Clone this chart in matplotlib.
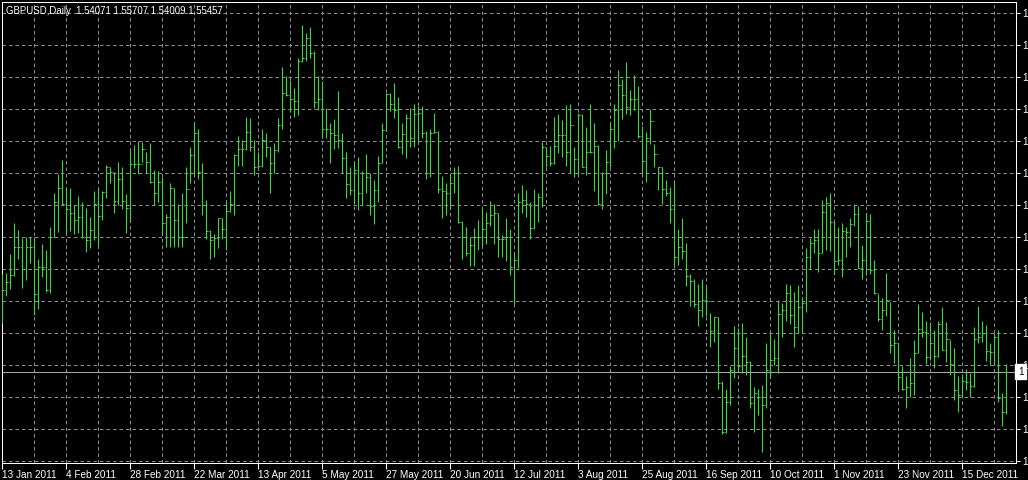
import numpy as np
import matplotlib.pyplot as plt

# GBPUSD daily bars, 13 Jan 2011 .. end Dec 2011
highs = [
    1.5882, 1.5886, 1.5950, 1.6056, 1.6033, 1.6004, 1.6008, 1.6008, 1.6008, 1.5932,
    1.5984, 1.5964, 1.6042, 1.6159, 1.6225, 1.6273, 1.6179, 1.6179, 1.6119, 1.6151,
    1.6130, 1.6107, 1.6079, 1.6168, 1.6179, 1.6168, 1.6255, 1.6248, 1.6228, 1.6267,
    1.6248, 1.6157, 1.6308, 1.6325, 1.6340, 1.6336, 1.6302, 1.6333, 1.6239, 1.6237,
    1.6216, 1.6088, 1.6193, 1.6179, 1.6124, 1.6161, 1.6251, 1.6319, 1.6400, 1.6382,
    1.6262, 1.6136, 1.6033, 1.6021, 1.6076, 1.6073, 1.6130, 1.6168, 1.6294, 1.6356,
    1.6342, 1.6420, 1.6417, 1.6342, 1.6302, 1.6379, 1.6365, 1.6319, 1.6331, 1.6417,
    1.6592, 1.6562, 1.6549, 1.6523, 1.6626, 1.6738, 1.6711, 1.6730, 1.6649, 1.6562,
    1.6546, 1.6454, 1.6400, 1.6413, 1.6512, 1.6367, 1.6302, 1.6248, 1.6264, 1.6283,
    1.6237, 1.6296, 1.6228, 1.6205, 1.6287, 1.6402, 1.6505, 1.6505, 1.6537, 1.6489,
    1.6400, 1.6432, 1.6454, 1.6466, 1.6459, 1.6459, 1.6374, 1.6382, 1.6434, 1.6374,
    1.6218, 1.6196, 1.6230, 1.6248, 1.6254, 1.6065, 1.6042, 1.6008, 1.6039, 1.6069,
    1.6113, 1.6096, 1.6134, 1.6122, 1.6090, 1.6016, 1.6073, 1.6035, 1.5950, 1.6161,
    1.6188, 1.6170, 1.6130, 1.6173, 1.6159, 1.6336, 1.6319, 1.6322, 1.6422, 1.6432,
    1.6411, 1.6462, 1.6468, 1.6319, 1.6434, 1.6432, 1.6388, 1.6466, 1.6402, 1.6325,
    1.6233, 1.6308, 1.6402, 1.6468, 1.6583, 1.6551, 1.6612, 1.6516, 1.6566, 1.6528,
    1.6390, 1.6371, 1.6448, 1.6328, 1.6251, 1.6248, 1.6205, 1.6182, 1.6205, 1.6035,
    1.6076, 1.5989, 1.5882, 1.5863, 1.5847, 1.5863, 1.5844, 1.5746, 1.5735, 1.5733,
    1.5515, 1.5488, 1.5565, 1.5703, 1.5695, 1.5714, 1.5666, 1.5583, 1.5492, 1.5488,
    1.5500, 1.5643, 1.5683, 1.5660, 1.5794, 1.5783, 1.5847, 1.5844, 1.5821, 1.5844,
    1.5804, 1.5970, 1.6004, 1.6035, 1.6035, 1.6136, 1.6145, 1.6159, 1.6061, 1.6042,
    1.6058, 1.6044, 1.6073, 1.6124, 1.6115, 1.5981, 1.6092, 1.6088, 1.5930, 1.5813,
    1.5798, 1.5884, 1.5786, 1.5689, 1.5643, 1.5565, 1.5531, 1.5592, 1.5655, 1.5778,
    1.5752, 1.5721, 1.5717, 1.5689, 1.5721, 1.5767, 1.5717, 1.5655, 1.5626, 1.5531,
    1.5538, 1.5554, 1.5542, 1.5698, 1.5772, 1.5721, 1.5706, 1.5645, 1.5678, 1.5689,
    1.5471, 1.55707,
]
lows = [
    1.5714, 1.5806, 1.5829, 1.5875, 1.5935, 1.5832, 1.5861, 1.5918, 1.5741, 1.5763,
    1.5872, 1.5821, 1.5817, 1.6008, 1.6027, 1.6119, 1.6024, 1.6031, 1.6021, 1.6024,
    1.6004, 1.5958, 1.5970, 1.5998, 1.5978, 1.6069, 1.6142, 1.6196, 1.6092, 1.6119,
    1.6104, 1.6024, 1.6065, 1.6245, 1.6225, 1.6268, 1.6228, 1.6196, 1.6119, 1.6130,
    1.6021, 1.5973, 1.5973, 1.5973, 1.5976, 1.5976, 1.6056, 1.6196, 1.6222, 1.6210,
    1.6084, 1.6001, 1.5932, 1.5939, 1.5970, 1.6001, 1.5966, 1.6096, 1.6084, 1.6253,
    1.6254, 1.6308, 1.6306, 1.6222, 1.6248, 1.6251, 1.6285, 1.6159, 1.6228, 1.6302,
    1.6382, 1.6494, 1.6440, 1.6422, 1.6428, 1.6612, 1.6615, 1.6626, 1.6451, 1.6445,
    1.6351, 1.6351, 1.6262, 1.6310, 1.6314, 1.6228, 1.6142, 1.6153, 1.6124, 1.6102,
    1.6119, 1.6159, 1.6084, 1.6053, 1.6130, 1.6264, 1.6377, 1.6443, 1.6417, 1.6314,
    1.6296, 1.6279, 1.6317, 1.6319, 1.6336, 1.6351, 1.6207, 1.6216, 1.6367, 1.6161,
    1.6073, 1.6084, 1.6104, 1.6161, 1.6058, 1.5932, 1.5943, 1.5909, 1.5909, 1.5966,
    1.5978, 1.5985, 1.6047, 1.5985, 1.5941, 1.5941, 1.5927, 1.5878, 1.5778, 1.5901,
    1.6090, 1.6079, 1.6001, 1.6035, 1.6061, 1.6113, 1.6251, 1.6254, 1.6260, 1.6299,
    1.6285, 1.6254, 1.6228, 1.6216, 1.6222, 1.6251, 1.6222, 1.6299, 1.6168, 1.6119,
    1.6104, 1.6157, 1.6248, 1.6314, 1.6340, 1.6413, 1.6432, 1.6428, 1.6445, 1.6351,
    1.6228, 1.6199, 1.6328, 1.6248, 1.6170, 1.6124, 1.6150, 1.6056, 1.5912, 1.5912,
    1.5932, 1.5840, 1.5772, 1.5767, 1.5703, 1.5733, 1.5737, 1.5632, 1.5649, 1.5485,
    1.5331, 1.5336, 1.5431, 1.5523, 1.5549, 1.5542, 1.5534, 1.5420, 1.5339, 1.5397,
    1.5271, 1.5420, 1.5529, 1.5569, 1.5542, 1.5666, 1.5721, 1.5710, 1.5632, 1.5680,
    1.5680, 1.5752, 1.5898, 1.5953, 1.5890, 1.5955, 1.5964, 1.5962, 1.5882, 1.5912,
    1.5872, 1.5941, 1.5973, 1.6047, 1.5901, 1.5863, 1.5878, 1.5882, 1.5813, 1.5721,
    1.5689, 1.5737, 1.5609, 1.5577, 1.5488, 1.5483, 1.5420, 1.5460, 1.5466, 1.5609,
    1.5666, 1.5574, 1.5586, 1.5557, 1.5597, 1.5620, 1.5580, 1.5534, 1.5448, 1.5408,
    1.5460, 1.5483, 1.5460, 1.5494, 1.5643, 1.5649, 1.5583, 1.5569, 1.5574, 1.5443,
    1.5359, 1.54009,
]
closes = [
    1.5827, 1.5855, 1.5878, 1.5976, 1.5976, 1.5898, 1.5976, 1.5973, 1.5813, 1.5907,
    1.5907, 1.5827, 1.6008, 1.6128, 1.6179, 1.6122, 1.6104, 1.6090, 1.6067, 1.6079,
    1.6008, 1.5998, 1.6033, 1.6122, 1.6081, 1.6164, 1.6248, 1.6233, 1.6134, 1.6207,
    1.6134, 1.6107, 1.6260, 1.6260, 1.6260, 1.6310, 1.6268, 1.6199, 1.6159, 1.6199,
    1.6058, 1.6079, 1.6176, 1.6067, 1.6008, 1.6008, 1.6173, 1.6291, 1.6367, 1.6233,
    1.6119, 1.6031, 1.5998, 1.6004, 1.6073, 1.6035, 1.6099, 1.6122, 1.6291, 1.6310,
    1.6310, 1.6371, 1.6319, 1.6251, 1.6254, 1.6342, 1.6319, 1.6262, 1.6308, 1.6394,
    1.6505, 1.6497, 1.6482, 1.6477, 1.6615, 1.6623, 1.6692, 1.6642, 1.6474, 1.6485,
    1.6382, 1.6382, 1.6365, 1.6359, 1.6344, 1.6279, 1.6191, 1.6170, 1.6241, 1.6161,
    1.6228, 1.6216, 1.6115, 1.6170, 1.6264, 1.6377, 1.6500, 1.6468, 1.6445, 1.6319,
    1.6363, 1.6417, 1.6351, 1.6432, 1.6434, 1.6365, 1.6228, 1.6367, 1.6371, 1.6173,
    1.6168, 1.6161, 1.6196, 1.6230, 1.6061, 1.6010, 1.5955, 1.5981, 1.6008, 1.6008,
    1.6035, 1.6056, 1.6084, 1.6090, 1.6001, 1.6001, 1.6010, 1.5907, 1.5930, 1.6130,
    1.6136, 1.6124, 1.6039, 1.6119, 1.6145, 1.6319, 1.6287, 1.6262, 1.6322, 1.6359,
    1.6359, 1.6302, 1.6394, 1.6276, 1.6428, 1.6251, 1.6302, 1.6302, 1.6322, 1.6124,
    1.6230, 1.6268, 1.6379, 1.6445, 1.6531, 1.6497, 1.6457, 1.6482, 1.6485, 1.6356,
    1.6271, 1.6351, 1.6409, 1.6296, 1.6248, 1.6173, 1.6161, 1.6104, 1.5939, 1.5976,
    1.5962, 1.5875, 1.5859, 1.5778, 1.5758, 1.5792, 1.5790, 1.5687, 1.5735, 1.5506,
    1.5339, 1.5443, 1.5551, 1.5626, 1.5565, 1.5600, 1.5580, 1.5439, 1.5474, 1.5460,
    1.5431, 1.5551, 1.5586, 1.5592, 1.5744, 1.5758, 1.5817, 1.5741, 1.5698, 1.5767,
    1.5783, 1.5941, 1.5987, 1.5998, 1.5955, 1.6096, 1.6127, 1.6061, 1.5927, 1.5930,
    1.6031, 1.6027, 1.6053, 1.6088, 1.5901, 1.5930, 1.6065, 1.5895, 1.5815, 1.5726,
    1.5758, 1.5794, 1.5637, 1.5643, 1.5529, 1.5488, 1.5492, 1.5506, 1.5611, 1.5691,
    1.5684, 1.5597, 1.5645, 1.5600, 1.5710, 1.5620, 1.5660, 1.5574, 1.5483, 1.5466,
    1.5515, 1.5511, 1.5496, 1.5660, 1.5666, 1.5678, 1.5618, 1.5614, 1.5666, 1.5454,
    1.54071, 1.55457,
]
first_open = 1.5860

date_labels = ['13 Jan 2011', '4 Feb 2011', '28 Feb 2011', '22 Mar 2011', '13 Apr 2011',
               '5 May 2011', '27 May 2011', '20 Jun 2011', '12 Jul 2011', '3 Aug 2011',
               '25 Aug 2011', '16 Sep 2011', '10 Oct 2011', '1 Nov 2011', '23 Nov 2011',
               '15 Dec 2011']
title = 'GBPUSD,Daily  1.54071 1.55707 1.54009 1.55457'
last_price = 1.55457

highs = np.array(highs)
lows = np.array(lows)
closes = np.array(closes)
opens = np.r_[first_open, closes[:-1]]
n = len(closes)
x = np.arange(n)

W, H = 1028, 480
fig = plt.figure(figsize=(W / 100, H / 100), dpi=100, facecolor='black')
ax = fig.add_axes([1.7 / W, (H - 463) / H, (1016 - 1.7) / W, (463 - 1.7) / H])
ax.set_facecolor('black')

px = 0.72  # one pixel in points
bar_col = '#42d442'
grid_col = '#8c8c8c'

# grid
grid_y = 1.6778 - 0.0110 * np.arange(15)
for gy in grid_y:
    ax.axhline(gy, color=grid_col, lw=px, ls=(0, (3.5, 3)), zorder=1)
for gx in range(8, n, 8):
    ax.axvline(gx, color=grid_col, lw=px, ls=(0, (3.5, 3)), zorder=1)

# OHLC bars
ax.vlines(x, lows, highs, color=bar_col, lw=px * 1.1, zorder=3)
ax.hlines(opens, x - 0.35, x, color=bar_col, lw=px, zorder=3)
ax.hlines(closes, x, x + 0.35, color=bar_col, lw=px, zorder=3)

# last price line
ax.axhline(last_price, color='#a8a8a8', lw=px, zorder=2)

ax.set_xlim(-0.15, 253.4)
ax.set_ylim(1.5232, 1.6818)

for s in ax.spines.values():
    s.set_color('white')
    s.set_linewidth(px)

font = dict(family='Liberation Sans', size=7.2, color='white')

ax.yaxis.tick_right()
ax.set_yticks(grid_y)
ax.set_yticklabels(['1'] * len(grid_y), **font)
ax.tick_params(axis='y', colors='white', length=3, width=px, pad=1.5)

ax.set_xticks(np.arange(0, n, 16))
ax.set_xticklabels(date_labels, ha='left', **font)
ax.tick_params(axis='x', colors='white', length=4, width=px, pad=1)

ax.text(1.0 + 2 / W, last_price, '1', transform=ax.get_yaxis_transform(),
        ha='left', va='center', color='black', fontsize=7.2, family='Liberation Sans',
        bbox=dict(boxstyle='square,pad=0.25', fc='white', ec='white'))

ax.text(4 / W, 1 - 10 / H, title, transform=ax.transAxes, ha='left', va='center',
        family='Liberation Sans', size=6.9, color='white')

fig.savefig('out.png', dpi=100, facecolor='black')
